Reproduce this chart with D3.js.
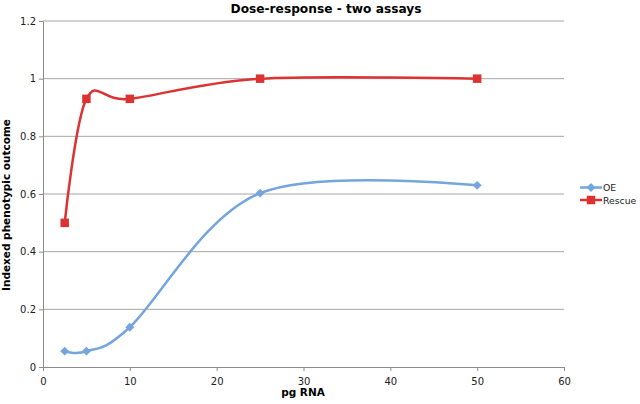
<!DOCTYPE html>
<html>
<head>
<meta charset="utf-8">
<script src="https://cdn.jsdelivr.net/npm/d3@7"></script>
<style>
  body { margin: 0; background: #fff; }
  text { font-family: "DejaVu Sans", Verdana, sans-serif; }
</style>
</head>
<body>
<div id="chart"></div>
<script>
// ----------------------
// Data
// ----------------------
const doses = [2.5, 5, 10, 25, 50];
const oeValues = [0.055, 0.055, 0.138, 0.603, 0.63];
const rescueValues = [0.5, 0.93, 0.93, 1.0, 1.0];
const xTicks = [0, 10, 20, 30, 40, 50, 60];
const yTicks = [0, 0.2, 0.4, 0.6, 0.8, 1, 1.2];
const seriesNames = ["OE", "Rescue"];

// ----------------------
// Setup
// ----------------------
const width = 640, height = 404;
const plot = { left: 43, right: 564, top: 21, bottom: 367 };

const svg = d3.select("#chart")
    .append("svg")
    .attr("width", width)
    .attr("height", height);

const x = d3.scaleLinear().domain([0, 60]).range([plot.left, plot.right]);
const y = d3.scaleLinear().domain([0, 1.2]).range([plot.bottom, plot.top]);

// gridlines
svg.append("g")
    .selectAll("line")
    .data(yTicks.filter(d => d > 0))
    .enter()
    .append("line")
    .attr("x1", plot.left)
    .attr("x2", plot.right)
    .attr("y1", d => y(d))
    .attr("y2", d => y(d))
    .attr("stroke", "#a6a6a6")
    .attr("stroke-width", 1);

// axes
const xAxis = svg.append("g")
    .attr("transform", `translate(0,${plot.bottom})`)
    .call(d3.axisBottom(x).tickValues(xTicks).tickSize(4).tickSizeOuter(0).tickFormat(d3.format("d")));

const yAxis = svg.append("g")
    .attr("transform", `translate(${plot.left},0)`)
    .call(d3.axisLeft(y).tickValues(yTicks).tickSize(4).tickSizeOuter(0).tickFormat(d => String(d)));

[xAxis, yAxis].forEach(a => {
    a.select(".domain").attr("stroke", "#8c8c8c");
    a.selectAll(".tick line").attr("stroke", "#8c8c8c");
    a.selectAll(".tick text")
        .attr("font-size", 10)
        .attr("fill", "#222")
        .style("font-family", "'DejaVu Sans', Verdana, sans-serif");
});
xAxis.selectAll(".tick text").attr("dy", "1.05em");
yAxis.selectAll(".tick text").attr("x", -7);

// series lines (Excel-style smoothing)
const line = d3.line()
    .x(d => x(d[0]))
    .y(d => y(d[1]))
    .curve(d3.curveCardinal.tension(0));

const oeData = doses.map((d, i) => [d, oeValues[i]]);
const rescueData = doses.map((d, i) => [d, rescueValues[i]]);

const blue = "#74a5dc";
const red = "#dc3232";

svg.append("path")
    .datum(oeData)
    .attr("d", line)
    .attr("fill", "none")
    .attr("stroke", blue)
    .attr("stroke-width", 2.5);

svg.append("path")
    .datum(rescueData)
    .attr("d", line)
    .attr("fill", "none")
    .attr("stroke", red)
    .attr("stroke-width", 2.5);

// diamond = square turned 45 degrees
const diamond = d3.symbol().type(d3.symbolSquare).size(40);
const square = d3.symbol().type(d3.symbolSquare).size(72);

svg.append("g")
    .selectAll("path")
    .data(oeData)
    .enter()
    .append("path")
    .attr("d", diamond)
    .attr("transform", d => `translate(${x(d[0])},${y(d[1])}) rotate(45)`)
    .attr("fill", blue);

svg.append("g")
    .selectAll("path")
    .data(rescueData)
    .enter()
    .append("path")
    .attr("d", square)
    .attr("transform", d => `translate(${x(d[0])},${y(d[1])})`)
    .attr("fill", red);

// titles
svg.append("text")
    .attr("x", 326)
    .attr("y", 13)
    .attr("text-anchor", "middle")
    .attr("font-size", 12.2)
    .attr("font-weight", "bold")
    .text("Dose-response - two assays");

svg.append("text")
    .attr("x", 303)
    .attr("y", 396)
    .attr("text-anchor", "middle")
    .attr("font-size", 10.5)
    .attr("font-weight", "bold")
    .text("pg RNA");

svg.append("text")
    .attr("transform", "translate(10,205) rotate(-90)")
    .attr("text-anchor", "middle")
    .attr("font-size", 10.5)
    .attr("font-weight", "bold")
    .text("Indexed phenotypic outcome");

// legend
const legend = svg.append("g");
const legendColors = [blue, red];
const legendSymbols = [diamond, square];
const legendRotate = [45, 0];
seriesNames.forEach((name, i) => {
    const ly = 187.5 + i * 12.5;
    legend.append("line")
        .attr("x1", 580).attr("x2", 602)
        .attr("y1", ly).attr("y2", ly)
        .attr("stroke", legendColors[i])
        .attr("stroke-width", 2.5);
    legend.append("path")
        .attr("d", legendSymbols[i])
        .attr("transform", `translate(591,${ly}) rotate(${legendRotate[i]})`)
        .attr("fill", legendColors[i]);
    legend.append("text")
        .attr("x", 603)
        .attr("y", ly + 3.5)
        .attr("font-size", 9.3)
        .attr("fill", "#222")
        .text(name);
});
</script>
</body>
</html>
